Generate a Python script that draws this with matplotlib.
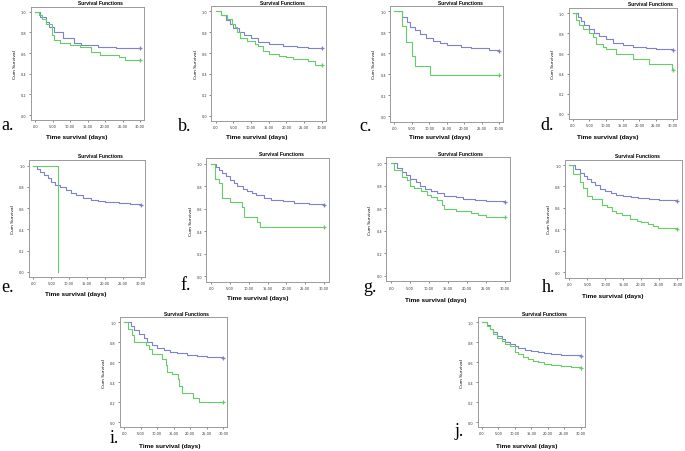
import matplotlib
matplotlib.use("Agg")
import matplotlib.pyplot as plt

W, H = 685, 452

# ---------------- data (time in days, cumulative survival) ----------------
PANELS = ["a", "b", "c", "d", "e", "f", "g", "h", "i", "j"]
X_TICKS = [0, 5, 10, 15, 20, 25, 30]
X_TICK_LABELS = [".00", "5.00", "10.00", "15.00", "20.00", "25.00", "30.00"]
Y_TICKS = [0.0, 0.2, 0.4, 0.6, 0.8, 1.0]
Y_TICK_LABELS = ["0.0", "0.2", "0.4", "0.6", "0.8", "1.0"]

A_T_BLUE = [0, 1.5, 3, 4, 5.5, 8, 11, 13, 18, 23, 30]
A_S_BLUE = [1.0, 0.95, 0.90, 0.85, 0.80, 0.75, 0.70, 0.68, 0.66, 0.645, 0.645]
A_T_GREEN = [0, 1, 2, 3, 4.8, 5.5, 7, 10, 12.9, 15.9, 18.6, 24, 25.7, 30]
A_S_GREEN = [1.0, 0.97, 0.93, 0.88, 0.77, 0.73, 0.70, 0.68, 0.655, 0.61, 0.58, 0.56, 0.53, 0.53]

B_T_BLUE = [0, 1.5, 3, 4, 5, 6.5, 8, 10, 12, 15, 19, 23, 26, 30]
B_S_BLUE = [1.0, 0.96, 0.92, 0.88, 0.84, 0.80, 0.77, 0.74, 0.71, 0.69, 0.67, 0.66, 0.645, 0.645]
B_T_GREEN = [0, 1.5, 3.1, 4.5, 5.5, 6, 6.9, 9, 11, 12.1, 13.5, 15.1, 18, 20, 22, 26, 28, 30]
B_S_GREEN = [1.0, 0.96, 0.93, 0.88, 0.85, 0.80, 0.74, 0.72, 0.69, 0.67, 0.62, 0.59, 0.57, 0.56, 0.54, 0.52, 0.49, 0.49]

C_T_BLUE = [0, 2.1, 3.5, 4.5, 6, 7.5, 9, 11, 13, 15, 19, 22, 27, 30]
C_S_BLUE = [1.0, 0.95, 0.90, 0.85, 0.82, 0.78, 0.75, 0.72, 0.70, 0.68, 0.66, 0.65, 0.63, 0.625]
C_T_GREEN = [0, 2.1, 3.3, 5.0, 5.9, 10.2, 30]
C_S_GREEN = [1.0, 0.86, 0.71, 0.57, 0.48, 0.39, 0.39]

D_T_BLUE = [0, 1.5, 2.5, 3.5, 5, 6.5, 8, 10, 12, 15, 18, 22, 25, 30]
D_S_BLUE = [1.0, 0.96, 0.92, 0.88, 0.84, 0.80, 0.77, 0.74, 0.71, 0.69, 0.67, 0.66, 0.645, 0.635]
D_T_GREEN = [0, 1, 2, 3, 5, 6, 7, 9, 10, 13, 18, 23, 29.8, 30]
D_S_GREEN = [1.0, 0.93, 0.88, 0.84, 0.80, 0.76, 0.70, 0.67, 0.65, 0.60, 0.55, 0.50, 0.44, 0.44]

E_T_BLUE = [0, 1, 2, 3, 4, 5, 6, 7.5, 9, 10.5, 12, 14, 16, 18, 20, 24, 27, 30]
E_S_BLUE = [1.0, 0.97, 0.94, 0.91, 0.88, 0.85, 0.82, 0.80, 0.77, 0.74, 0.72, 0.70, 0.68, 0.67, 0.66, 0.65, 0.64, 0.63]
E_T_GREEN = [0, 7, 7]
E_S_GREEN = [1.0, 0.0, 0.0]

F_T_BLUE = [0, 1.2, 2, 3, 4, 5, 6, 7, 8.5, 9.5, 11, 12, 14, 16, 19, 22, 26, 30]
F_S_BLUE = [1.0, 0.97, 0.95, 0.92, 0.89, 0.86, 0.83, 0.80, 0.78, 0.76, 0.74, 0.72, 0.70, 0.68, 0.67, 0.655, 0.645, 0.635]
F_T_GREEN = [0, 1, 2.1, 3, 5, 8.1, 8.8, 12.1, 13, 30]
F_S_GREEN = [1.0, 0.87, 0.83, 0.70, 0.66, 0.62, 0.525, 0.487, 0.436, 0.436]

G_T_BLUE = [0, 1.5, 3, 4, 5, 6.5, 7.5, 9, 10.5, 12, 14, 17, 19, 22, 25, 30]
G_S_BLUE = [1.0, 0.96, 0.92, 0.89, 0.86, 0.83, 0.80, 0.77, 0.75, 0.73, 0.71, 0.695, 0.68, 0.67, 0.66, 0.655]
G_T_GREEN = [0, 0.8, 3, 4.1, 5, 6, 8, 9.5, 10.5, 12, 13.5, 14, 17, 21, 23, 25, 30]
G_S_GREEN = [1.0, 0.94, 0.88, 0.85, 0.80, 0.78, 0.75, 0.72, 0.70, 0.67, 0.63, 0.59, 0.57, 0.56, 0.54, 0.525, 0.525]

H_T_BLUE = [0, 1.5, 3, 4, 5, 6, 7, 8.5, 10, 11.5, 13, 15, 17, 19, 22, 25, 30]
H_S_BLUE = [1.0, 0.96, 0.93, 0.90, 0.87, 0.84, 0.81, 0.78, 0.76, 0.74, 0.72, 0.71, 0.70, 0.69, 0.68, 0.67, 0.66]
H_T_GREEN = [0, 1, 3, 3.9, 4.8, 6.2, 9, 10.6, 11.8, 13.1, 14.5, 16.9, 18.7, 19.8, 21.9, 23.3, 24.7, 30]
H_S_GREEN = [1.0, 0.92, 0.84, 0.79, 0.71, 0.68, 0.63, 0.605, 0.575, 0.55, 0.53, 0.50, 0.48, 0.466, 0.45, 0.43, 0.41, 0.405]

I_T_BLUE = [0, 2, 3, 4.5, 6, 7, 8.5, 10, 12, 14, 16, 19, 22, 25, 30]
I_S_BLUE = [1.0, 0.96, 0.92, 0.88, 0.84, 0.80, 0.77, 0.74, 0.72, 0.70, 0.69, 0.675, 0.665, 0.655, 0.645]
I_T_GREEN = [0, 1.1, 2.4, 3, 6.7, 7.6, 8.6, 11.5, 12.6, 13.1, 14.6, 16.3, 16.6, 17.4, 20.8, 22.8, 30]
I_S_GREEN = [1.0, 0.93, 0.87, 0.80, 0.77, 0.73, 0.68, 0.63, 0.57, 0.50, 0.48, 0.43, 0.36, 0.29, 0.24, 0.20, 0.20]

J_T_BLUE = [0, 1.5, 2.5, 3.5, 4.5, 6, 7, 8.5, 10, 11, 13, 15, 17, 19, 21, 24, 30]
J_S_BLUE = [1.0, 0.97, 0.93, 0.90, 0.86, 0.83, 0.80, 0.78, 0.76, 0.74, 0.72, 0.71, 0.70, 0.69, 0.68, 0.67, 0.66]
J_T_GREEN = [0, 1.5, 2.5, 3.5, 4.5, 6, 7, 8.5, 10.2, 11, 12.5, 14, 15.5, 17, 19, 21, 24, 27, 30]
J_S_GREEN = [1.0, 0.96, 0.93, 0.88, 0.84, 0.81, 0.78, 0.76, 0.70, 0.68, 0.65, 0.63, 0.61, 0.60, 0.58, 0.57, 0.56, 0.55, 0.54]

SERIES = {
    "a": (A_T_BLUE, A_S_BLUE, A_T_GREEN, A_S_GREEN),
    "b": (B_T_BLUE, B_S_BLUE, B_T_GREEN, B_S_GREEN),
    "c": (C_T_BLUE, C_S_BLUE, C_T_GREEN, C_S_GREEN),
    "d": (D_T_BLUE, D_S_BLUE, D_T_GREEN, D_S_GREEN),
    "e": (E_T_BLUE, E_S_BLUE, E_T_GREEN, E_S_GREEN),
    "f": (F_T_BLUE, F_S_BLUE, F_T_GREEN, F_S_GREEN),
    "g": (G_T_BLUE, G_S_BLUE, G_T_GREEN, G_S_GREEN),
    "h": (H_T_BLUE, H_S_BLUE, H_T_GREEN, H_S_GREEN),
    "i": (I_T_BLUE, I_S_BLUE, I_T_GREEN, I_S_GREEN),
    "j": (J_T_BLUE, J_S_BLUE, J_T_GREEN, J_S_GREEN),
}

# ---------------- layout (pixels) ----------------
# pixel of t=0, t=30, S=1.0, S=0.0
AX_PIX = {
    "a": (35, 140, 12.7, 116),
    "b": (215.7, 321.7, 12.3, 116.7),
    "c": (394.3, 499, 12.3, 117.3),
    "d": (572.7, 672.7, 14.3, 115),
    "e": (33.3, 140.7, 166.7, 272.7),
    "f": (211, 324, 165, 277.3),
    "g": (391, 505, 164, 276.7),
    "h": (569.3, 677.3, 166, 273.3),
    "i": (124, 223.3, 323.3, 423.3),
    "j": (481.7, 580.7, 323.3, 423.3),
}
TITLE_PIX = {"a": (100, 3.5), "b": (282, 3.5), "c": (460, 3.5), "d": (650, 4.5),
             "e": (100, 157), "f": (281, 155), "g": (460, 155), "h": (637, 156),
             "i": (186, 315), "j": (544, 315)}
XLAB_PIX = {"a": (77, 137), "b": (257, 137), "c": (440, 137), "d": (608, 137),
            "e": (76, 295), "f": (258, 299), "g": (436, 301), "h": (613, 297),
            "i": (170, 447), "j": (527, 447)}
LETTER_PIX = {"a": (1, 126), "b": (178, 127), "c": (359, 127), "d": (540, 125),
              "e": (1, 287), "f": (180, 285), "g": (363, 288), "h": (542, 287),
              "i": (110, 439), "j": (455, 432)}

BLUE = "#7f80cf"
GREEN = "#66cc66"

fig = plt.figure(figsize=(W / 100, H / 100), dpi=100)
fig.patch.set_facecolor("white")


def fx(x):
    return x / W


def fy(y):
    return 1 - y / H


for p in PANELS:
    x0, x30, y1, y0 = AX_PIX[p]
    sx = x30 - x0
    sy = y0 - y1
    l = x0 - 1.2 * sx / 30
    r = x30 + 1.2 * sx / 30
    t = y1 - 0.05 * sy
    b = y0 + 0.05 * sy
    ax = fig.add_axes([fx(l), fy(b), (r - l) / W, (b - t) / H])
    ax.set_xlim(-1.2, 31.2)
    ax.set_ylim(-0.05, 1.05)
    tb, sb, tg, sg = SERIES[p]
    ax.step(tb, sb, where="post", color=BLUE, lw=0.8)
    ax.step(tg, sg, where="post", color=GREEN, lw=0.8)
    ax.plot([tb[-1]], [sb[-1]], marker="+", color=BLUE, ms=3, mew=0.9)
    if sg[-1] > 0:
        ax.plot([tg[-1]], [sg[-1]], marker="+", color=GREEN, ms=3, mew=0.9)
    ax.set_xticks(X_TICKS)
    ax.set_xticklabels(X_TICK_LABELS)
    ax.set_yticks(Y_TICKS)
    ax.set_yticklabels(Y_TICK_LABELS)
    ax.tick_params(labelsize=2.5, length=1.5, width=0.4, pad=1.5, colors="#333333")
    ax.set_ylabel("Cum Survival", fontsize=3.2, labelpad=3)
    for s in ax.spines.values():
        s.set_color("#9a9a9a")
        s.set_linewidth(0.7)
    tx, ty = TITLE_PIX[p]
    fig.text(fx(tx), fy(ty), "Survival Functions", fontsize=3.6, fontweight="bold",
             family="Liberation Sans", ha="center", va="center")
    lx, ly = XLAB_PIX[p]
    fig.text(fx(lx), fy(ly), "Time survival (days)", fontsize=4.6, fontweight="bold",
             family="Liberation Sans", ha="center", va="center")
    px, py = LETTER_PIX[p]
    fig.text(fx(px), fy(py), p + ".", fontsize=13, family="Liberation Serif",
             ha="left", va="center")

fig.savefig("out.png", dpi=100, facecolor="white")
